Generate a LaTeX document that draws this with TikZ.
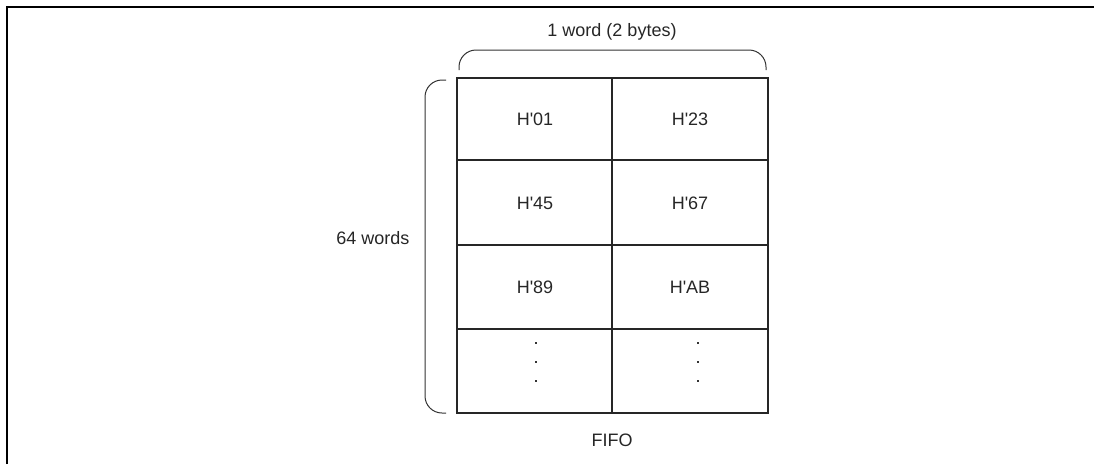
\documentclass[tikz,border=0pt]{standalone}
\usepackage{fontspec}
\setmainfont{Liberation Sans}
\newcommand{\hq}{H\textquotesingle}
\begin{document}
\begin{tikzpicture}[x=1pt,y=-1pt,
  cell/.style={draw=none,font=\fontsize{18}{20}\selectfont,text=black!85},
  lbl/.style={font=\fontsize{18}{20}\selectfont,text=black!85},
  boxline/.style={line width=2.6pt,black!85},
  brace/.style={line width=1pt,black!80,rounded corners=17pt},
  dot/.style={fill=black!80,inner sep=0pt,minimum size=2.6pt,rectangle}]
\useasboundingbox (0,0) rectangle (1094,464);
% frame
\draw[line width=2.2pt] (7,464) -- (7,7) -- (1094,7);
% table
\coordinate (tl) at (457,78);
\coordinate (br) at (768,413);
\draw[boxline] (tl) rectangle (br);
\draw[boxline] (612,78) -- (612,413);
\draw[boxline] (457,160) -- (768,160);
\draw[boxline] (457,245) -- (768,245);
\draw[boxline] (457,329) -- (768,329);
% cell texts
\node[cell] (c11) at (535,119) {\hq01};
\node[cell] (c12) at (690,119) {\hq23};
\node[cell] (c21) at (535,203) {\hq45};
\node[cell] (c22) at (690,203) {\hq67};
\node[cell] (c31) at (535,287) {\hq89};
\node[cell] (c32) at (690,287) {\hq AB};
\foreach \y/\n in {343/a,362/b,381/c}{
  \node[dot] (l\n) at (536,\y) {};
  \node[dot] (r\n) at (698,\y) {};
}
% braces
\coordinate (t1) at (459,70);
\coordinate (t2) at (766,70);
\draw[brace] (t1) -- (459,50) -- (766,50) -- (t2);
\coordinate (l1) at (446,80);
\coordinate (l2) at (446,413);
\draw[brace] (l1) -- (425,80) -- (425,413) -- (l2);
% labels
\node[lbl] (top) at (612,32) {1 word (2 bytes)};
\node[lbl] (side) at (373,238) {64 words};
\node[lbl] (fifo) at (612,440) {FIFO};
\end{tikzpicture}
\end{document}
